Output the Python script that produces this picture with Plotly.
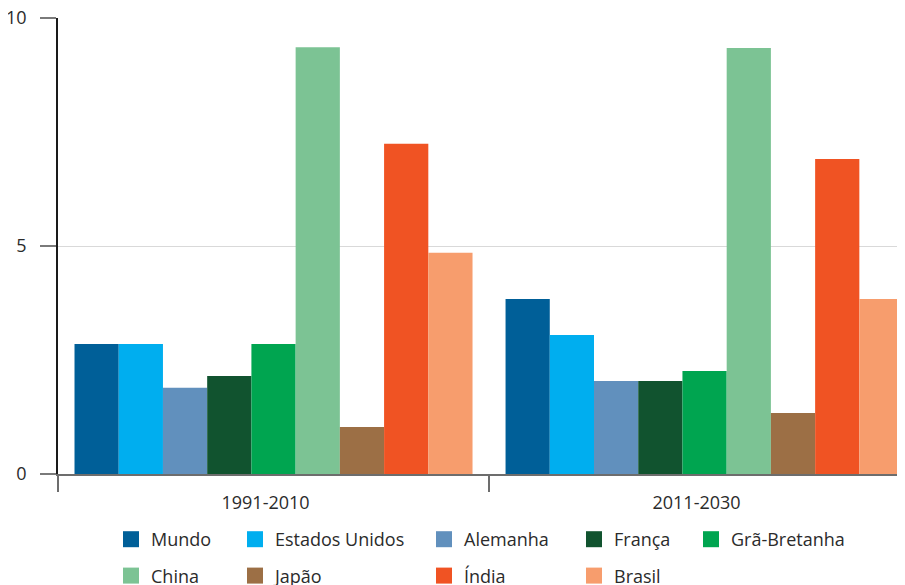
import plotly.graph_objects as go

periods = ["1991-2010", "2011-2030"]
countries = ["Mundo", "Estados Unidos", "Alemanha", "França", "Grã-Bretanha",
             "China", "Japão", "Índia", "Brasil"]
mundo = [2.85, 3.84]
estados_unidos = [2.85, 3.05]
alemanha = [1.89, 2.04]
franca = [2.15, 2.04]
gra_bretanha = [2.85, 2.26]
china = [9.36, 9.34]
japao = [1.03, 1.34]
india = [7.24, 6.91]
brasil = [4.85, 3.84]
series = [mundo, estados_unidos, alemanha, franca, gra_bretanha, china, japao, india, brasil]
colors = ["#005f98", "#00aeef", "#6190bd", "#11532f", "#00a550",
          "#7cc394", "#9c6f45", "#f05323", "#f79d6d"]
y_ticks = [0, 5, 10]

# legend column assignment (grid layout of reference legend)
legend_of = ["legend", "legend2", "legend3", "legend4", "legend5",
             "legend", "legend2", "legend3", "legend4"]

FONT = "Open Sans"
TXT = "#2b2b2b"
FS = 18

fig = go.Figure()
for name, vals, col in zip(countries, series, colors):
    fig.add_trace(go.Bar(x=periods, y=vals, name=name, marker=dict(color=col, line=dict(width=0)),
                         showlegend=False))
# legend entries with square swatches
for name, col, lg in zip(countries, colors, legend_of):
    fig.add_trace(go.Scatter(x=[None], y=[None], mode="markers", name=name,
                             marker=dict(symbol="square", size=16, color=col, line=dict(width=0)),
                             legend=lg, legendgroup=name, showlegend=True))

OFF = 8  # page body margin
W, H = 905 - OFF, 585 - OFF
L, R, T, B = 50, 0, 10, 111
pw = W - L - R
ph = H - T - B

def lx(px):  # window px -> paper x
    return (px - OFF - L) / pw

def ly(py):  # window px -> paper y
    return (H - B - (py - OFF)) / ph

col_x = [125, 249, 438, 588, 705]
leg_common = dict(orientation="v", yanchor="top", xanchor="left", bgcolor="rgba(0,0,0,0)",
                  font=dict(family=FONT, size=FS, color=TXT), tracegroupgap=10, itemwidth=30)
layout_legends = {}
for i, cx in enumerate(col_x):
    key = "legend" if i == 0 else f"legend{i+1}"
    layout_legends[key] = dict(x=lx(cx - 14), y=ly(521), **leg_common)

fig.update_layout(
    width=W, height=H,
    margin=dict(l=L, r=R, t=T, b=B, pad=0, autoexpand=False),
    paper_bgcolor="white", plot_bgcolor="white",
    barmode="group", bargap=0.0766, bargroupgap=0,
    font=dict(family=FONT, size=FS, color=TXT),
    showlegend=True,
    **layout_legends,
)
fig.update_xaxes(
    type="category", range=[-0.5, 1.465], automargin=False,
    showline=True, linecolor="#6d6d6d", linewidth=2,
    ticks="outside", tickson="boundaries", ticklen=16, tickwidth=2, tickcolor="#6d6d6d",
    showgrid=False, zeroline=False, ticklabelshift=-8, ticklabelstandoff=11,
    tickfont=dict(family=FONT, size=FS, color=TXT),
)
fig.update_yaxes(
    range=[0, 10], tickvals=y_ticks, ticktext=[str(v) for v in y_ticks], automargin=False,
    showline=True, linecolor="#1a1a1a", linewidth=1.5,
    ticks="outside", ticklen=16, tickwidth=2, tickcolor="#7a7a7a",
    showgrid=True, gridcolor="#d9d9d9", gridwidth=1, zeroline=False,
    ticklabelstandoff=10, ticklabeloverflow="allow",
    tickfont=dict(family=FONT, size=FS, color=TXT),
)
fig.write_html("out.html")
